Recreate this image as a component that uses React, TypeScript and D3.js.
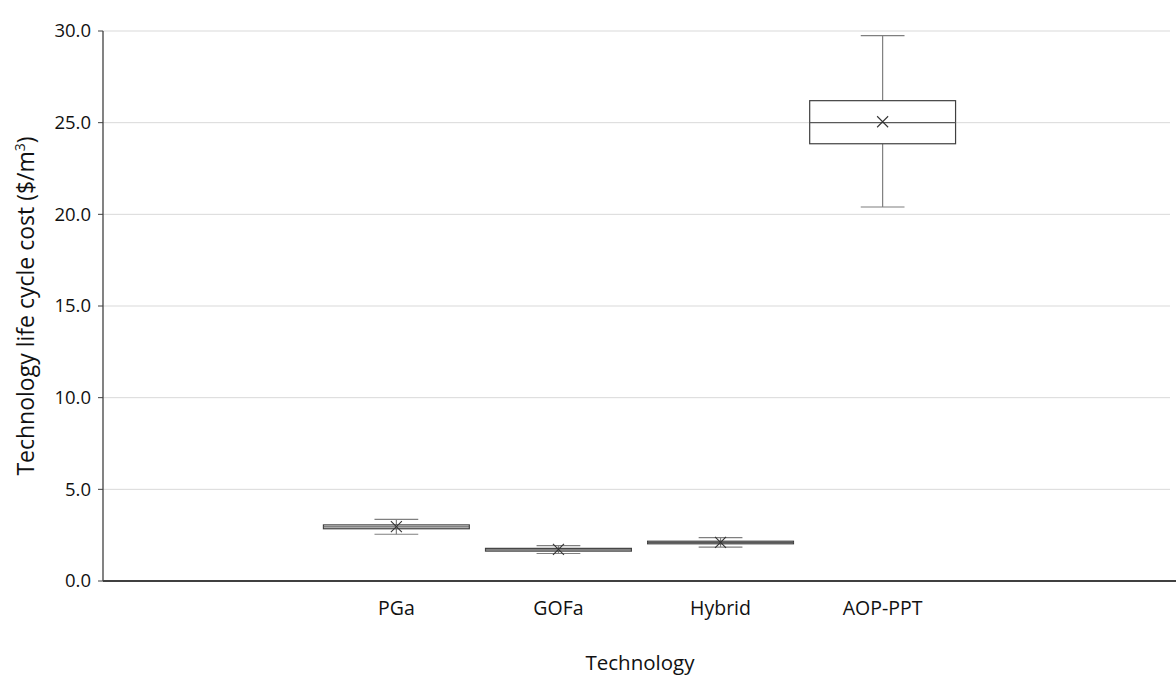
import React from "react";
import * as d3 from "d3";

const categories = ["PGa", "GOFa", "Hybrid", "AOP-PPT"];
const whiskerMin = [2.55, 1.5, 1.85, 20.4];
const q1 = [2.85, 1.63, 2.03, 23.85];
const median = [2.95, 1.7, 2.1, 25.0];
const q3 = [3.06, 1.78, 2.17, 26.2];
const whiskerMax = [3.36, 1.93, 2.37, 29.75];
const mean = [2.97, 1.72, 2.11, 25.05];
const yTicks = [0, 5, 10, 15, 20, 25, 30];

const W = 1176;
const H = 675;
const left = 103;
const right = 1176;
const top = 31;
const bottom = 581;
const font = "'Open Sans', 'Liberation Sans', sans-serif";

export default function App() {
  const y = d3.scaleLinear().domain([0, 30]).range([bottom, top]);
  const x = d3.scalePoint<string>().domain(categories).range([left, right]).padding(1.81);
  const step = x.step();
  const boxW = step * 0.9;
  const capW = step * 0.27;
  const fmt = d3.format(".1f");

  return (
    <svg width={W} height={H} style={{ position: "absolute", left: 0, top: 0, background: "#fff" }}>
      {yTicks.filter((t) => t > 0).map((t) => (
        <line key={"g" + t} x1={left} x2={1170} y1={y(t)} y2={y(t)} stroke="#d9d9d9" strokeWidth={1} />
      ))}
      {/* y axis */}
      <line x1={left} x2={left} y1={top} y2={bottom} stroke="#404040" strokeWidth={1.3} />
      {yTicks.map((t) => (
        <g key={"t" + t}>
          <line x1={left - 5} x2={left} y1={y(t)} y2={y(t)} stroke="#404040" strokeWidth={1} />
          <text x={left - 12} y={y(t)} dy="0.35em" textAnchor="end" fontFamily={font} fontSize={18.5} fill="#111">
            {fmt(t)}
          </text>
        </g>
      ))}
      {/* boxes */}
      {categories.map((c, i) => {
        const cx = x(c)!;
        const mx = 5.5;
        const my = y(mean[i]);
        return (
          <g key={c}>
            <line x1={cx} x2={cx} y1={y(whiskerMax[i])} y2={y(q3[i])} stroke="#7f7f7f" strokeWidth={1.2} />
            <line x1={cx} x2={cx} y1={y(q1[i])} y2={y(whiskerMin[i])} stroke="#7f7f7f" strokeWidth={1.2} />
            <line x1={cx - capW / 2} x2={cx + capW / 2} y1={y(whiskerMax[i])} y2={y(whiskerMax[i])} stroke="#7f7f7f" strokeWidth={1.2} />
            <line x1={cx - capW / 2} x2={cx + capW / 2} y1={y(whiskerMin[i])} y2={y(whiskerMin[i])} stroke="#7f7f7f" strokeWidth={1.2} />
            <rect x={cx - boxW / 2} y={y(q3[i])} width={boxW} height={y(q1[i]) - y(q3[i])} fill="#fff" stroke="#404040" strokeWidth={1.2} />
            <line x1={cx - boxW / 2} x2={cx + boxW / 2} y1={y(median[i])} y2={y(median[i])} stroke="#595959" strokeWidth={1.2} />
            <line x1={cx - mx} x2={cx + mx} y1={my - mx} y2={my + mx} stroke="#333" strokeWidth={1.1} />
            <line x1={cx - mx} x2={cx + mx} y1={my + mx} y2={my - mx} stroke="#333" strokeWidth={1.1} />
          </g>
        );
      })}
      {/* x axis */}
      <line x1={left} x2={right} y1={bottom} y2={bottom} stroke="#404040" strokeWidth={2} />
      {categories.map((c) => (
        <text key={"x" + c} x={x(c)!} y={608} dy="0.35em" textAnchor="middle" fontFamily={font} fontSize={19.5} fill="#111">
          {c}
        </text>
      ))}
      <text x={640} y={663} dy="0.35em" textAnchor="middle" fontFamily={font} fontSize={20.5} fill="#111">
        Technology
      </text>
      <text transform={`translate(26, ${(top + bottom) / 2}) rotate(-90)`} textAnchor="middle" dy="0.35em" fontFamily={font} fontSize={23} fill="#111">
        Technology life cycle cost ($/m
        <tspan baselineShift="super" fontSize={14}>3</tspan>)
      </text>
    </svg>
  );
}
